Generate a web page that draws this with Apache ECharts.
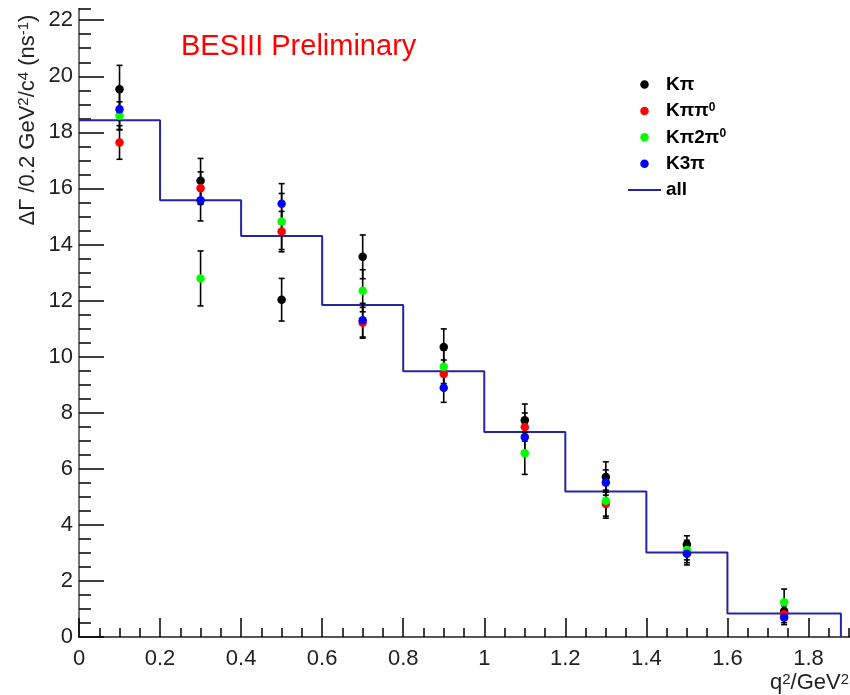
<!DOCTYPE html>
<html>
<head>
<meta charset="utf-8">
<script src="https://cdn.jsdelivr.net/npm/echarts@6/dist/echarts.min.js"></script>
<style>
  html, body { margin: 0; padding: 0; background: #fff; }
  #chart { width: 850px; height: 695px; }
</style>
</head>
<body>
<div id="chart"></div>
<script>
// q^2 bin edges (GeV^2); the last bin closes at the kinematic limit
const binEdges = [0, 0.2, 0.4, 0.6, 0.8, 1.0, 1.2, 1.4, 1.6, 1.88];

// Combined partial decay rate per bin (ns^-1)
const allRate = [18.43, 15.58, 14.30, 11.84, 9.48, 7.31, 5.19, 3.01, 0.84];

// Per-tag-mode partial rates and their uncertainties
const kpiRate    = [19.54, 16.27, 12.03, 13.56, 10.34, 7.73, 5.71, 3.30, 0.93];
const kpiErr     = [0.85, 0.80, 0.76, 0.78, 0.65, 0.58, 0.54, 0.31, 0.30];
const kpipi0Rate = [17.64, 16.01, 14.46, 11.21, 9.38, 7.49, 4.74, 3.00, 0.81];
const kpipi0Err  = [0.60, 0.58, 0.72, 0.55, 0.50, 0.50, 0.50, 0.35, 0.30];
const kpi2pi0Rate = [18.59, 12.79, 14.82, 12.35, 9.64, 6.55, 4.86, 3.10, 1.24];
const kpi2pi0Err  = [0.50, 0.98, 1.00, 0.75, 0.60, 0.75, 0.55, 0.35, 0.47];
const k3piRate   = [18.82, 15.58, 15.45, 11.30, 8.89, 7.13, 5.51, 2.97, 0.70];
const k3piErr    = [0.72, 0.74, 0.72, 0.60, 0.52, 0.50, 0.45, 0.40, 0.26];

const modeNames  = ['Kπ', 'Kππ0', 'Kπ2π0', 'K3π'];
const modeColors = ['#000000', '#ff0000', '#00ff00', '#0000ff'];
const modeRates  = [kpiRate, kpipi0Rate, kpi2pi0Rate, k3piRate];
const modeErrs   = [kpiErr, kpipi0Err, kpi2pi0Err, k3piErr];

// Axis tick spacing
const xMajor = 0.2, xMinor = 0.05, xMax = 1.9;
const yMajor = 2, yMinor = 0.5, yMax = 22.4;

const FONT = '"Liberation Sans", Arial, sans-serif';

const binCenters = binEdges.slice(0, -1).map((e, i) => (e + binEdges[i + 1]) / 2);

// Histogram outline: one point per left edge, closing down to zero at the last edge
const stepData = allRate.map((v, i) => [binEdges[i], v]);
stepData.push([binEdges[binEdges.length - 1], 0]);

function errorBarItem(params, api) {
  const x = api.value(0), y = api.value(1), e = api.value(2);
  const top = api.coord([x, y + e]);
  const bot = api.coord([x, y - e]);
  const cap = 3;
  const style = { stroke: '#000', lineWidth: 1.6 };
  return {
    type: 'group',
    children: [
      { type: 'line', shape: { x1: top[0], y1: top[1], x2: bot[0], y2: bot[1] }, style },
      { type: 'line', shape: { x1: top[0] - cap, y1: top[1], x2: top[0] + cap, y2: top[1] }, style },
      { type: 'line', shape: { x1: bot[0] - cap, y1: bot[1], x2: bot[0] + cap, y2: bot[1] }, style }
    ]
  };
}

const series = [{
  name: 'all',
  type: 'line',
  step: 'end',
  data: stepData,
  symbol: 'none',
  color: '#2424a8',
  lineStyle: { color: '#2424a8', width: 2 },
  z: 1
}];

modeNames.forEach((name, k) => {
  series.push({
    name: name + ' error',
    type: 'custom',
    renderItem: errorBarItem,
    encode: { x: 0, y: 1 },
    data: modeRates[k].map((v, i) => [binCenters[i], v, modeErrs[k][i]]),
    z: 2
  });
  series.push({
    name: name,
    type: 'scatter',
    symbol: 'circle',
    symbolSize: 8.5,
    itemStyle: { color: modeColors[k], opacity: 1 },
    data: modeRates[k].map((v, i) => [binCenters[i], v]),
    z: 2
  });
});

const gridRect = { left: 79, right: 1, top: 9, bottom: 58, outerBoundsMode: 'none' };
const noLine = { show: false };

const chart = echarts.init(document.getElementById('chart'), null, { renderer: 'canvas' });
chart.setOption({
  animation: false,
  backgroundColor: '#ffffff',
  grid: [Object.assign({}, gridRect), Object.assign({}, gridRect)],
  xAxis: [
    {
      type: 'value', gridIndex: 0, position: 'bottom',
      min: 0, max: xMax, interval: xMajor,
      axisLine: { show: true, lineStyle: { color: '#000', width: 2 } },
      axisTick: { show: true, inside: true, length: 19, lineStyle: { color: '#000', width: 1.5 } },
      axisLabel: { showMaxLabel: false, margin: 11, fontSize: 22, color: '#222', fontFamily: FONT },
      splitLine: noLine
    },
    {
      type: 'value', gridIndex: 0, position: 'top',
      min: 0, max: xMax,
      axisLine: { show: true, lineStyle: { color: '#555', width: 2 } },
      axisTick: noLine, axisLabel: noLine, splitLine: noLine
    },
    {
      type: 'value', gridIndex: 1, position: 'bottom',
      min: 0, max: xMax, interval: xMinor,
      axisLine: noLine,
      axisTick: { show: true, inside: true, length: 9, lineStyle: { color: '#000', width: 1.5 } },
      axisLabel: noLine, splitLine: noLine
    }
  ],
  yAxis: [
    {
      type: 'value', gridIndex: 0, position: 'left',
      min: 0, max: yMax, interval: yMajor,
      axisLine: { show: true, lineStyle: { color: '#000', width: 2 } },
      axisTick: { show: true, inside: true, length: 25, lineStyle: { color: '#000', width: 1.5 } },
      axisLabel: { showMaxLabel: false, margin: 6, fontSize: 22, color: '#222', fontFamily: FONT },
      splitLine: noLine
    },
    {
      type: 'value', gridIndex: 0, position: 'right',
      min: 0, max: yMax,
      axisLine: { show: true, lineStyle: { color: '#999', width: 1.5 } },
      axisTick: noLine, axisLabel: noLine, splitLine: noLine
    },
    {
      type: 'value', gridIndex: 1, position: 'left',
      min: 0, max: yMax, interval: yMinor,
      axisLine: noLine,
      axisTick: { show: true, inside: true, length: 12, lineStyle: { color: '#000', width: 1.5 } },
      axisLabel: noLine, splitLine: noLine
    }
  ],
  legend: {
    data: [
      { name: 'Kπ' }, { name: 'Kππ0' }, { name: 'Kπ2π0' }, { name: 'K3π' },
      { name: 'all', icon: 'path://M0,0H33V2H0Z' }
    ],
    orient: 'vertical',
    left: 628, top: 75, padding: 0,
    itemWidth: 33, itemHeight: 8.5, itemGap: 7.4,
    icon: 'circle',
    selectedMode: false,
    formatter: n => n.replace(/0$/, '{sup|0}'),
    textStyle: {
      fontSize: 19, fontWeight: 'bold', color: '#000', fontFamily: FONT, lineHeight: 19,
      rich: { sup: { fontSize: 12, fontWeight: 'bold', color: '#000', fontFamily: FONT, lineHeight: 12, verticalAlign: 'top' } }
    }
  },
  graphic: [
    {
      type: 'text', x: 181, y: 47, z: 10,
      style: { text: 'BESIII Preliminary', font: '29px ' + FONT, fill: '#ff0000', align: 'left', verticalAlign: 'middle' }
    },
    {
      type: 'text', x: 28, y: 120, rotation: Math.PI / 2, z: 10,
      style: {
        text: '{m|ΔΓ /0.2 GeV}{s|2}{m|/c}{s|4}{m| (ns}{s|-1}{m|)}',
        font: '22px ' + FONT, fill: '#222', align: 'center', verticalAlign: 'middle',
        rich: {
          m: { fontSize: 22, fontFamily: FONT, lineHeight: 23 },
          s: { fontSize: 15, fontFamily: FONT, lineHeight: 15, verticalAlign: 'top' }
        }
      }
    },
    {
      type: 'text', x: 849, y: 683, z: 10,
      style: {
        text: '{m|q}{s|2}{m|/GeV}{s|2}',
        font: '22px ' + FONT, fill: '#222', align: 'right', verticalAlign: 'middle',
        rich: {
          m: { fontSize: 22, fontFamily: FONT, lineHeight: 22 },
          s: { fontSize: 15, fontFamily: FONT, lineHeight: 15, verticalAlign: 'top' }
        }
      }
    }
  ],
  series: series
});
</script>
</body>
</html>
